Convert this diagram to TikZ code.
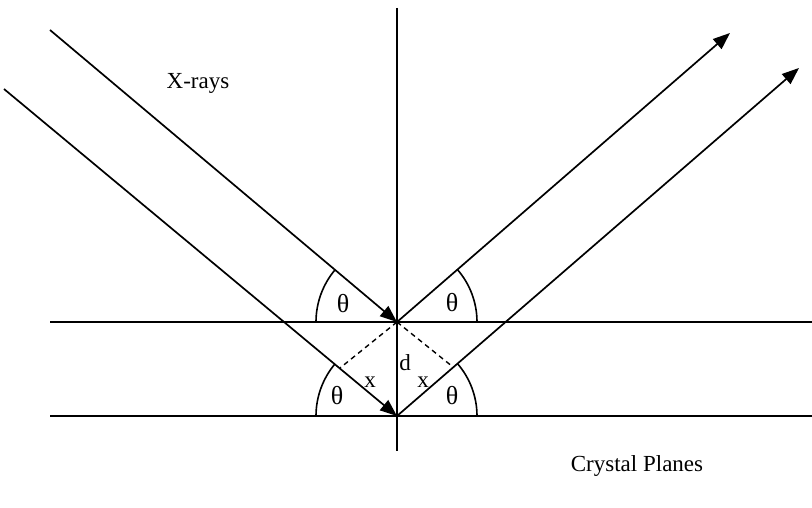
\documentclass[tikz,border=0pt]{standalone}
\usepackage{fontspec}
\setmainfont{Liberation Serif}
\usetikzlibrary{arrows.meta}
\begin{document}
\begin{tikzpicture}[x=1pt,y=-1pt,
  ray/.style={line width=1.7pt},
  rayarrow/.style={line width=1.7pt,-{Triangle[length=17pt,width=13pt]}},
  plane/.style={line width=1.7pt},
  anglearc/.style={line width=1.6pt},
  pathdash/.style={line width=1.4pt,dash pattern=on 5pt off 4pt},
  lbl/.style={font=\fontsize{23}{26}\selectfont,inner sep=0pt},
  thlbl/.style={font=\fontsize{26}{28}\selectfont,inner sep=0pt}]
\useasboundingbox (0,0) rectangle (812,508);
% key points
\coordinate (O1) at (397,322);
\coordinate (O2) at (397,416);
\coordinate (In1) at (50,30);
\coordinate (In2) at (4,89);
\coordinate (Out1) at (730,33);
\coordinate (Out2) at (799,68);
\coordinate (VTop) at (397,8);
\coordinate (VBot) at (397,451);
\coordinate (P1L) at (50,322);
\coordinate (P1R) at (812,322);
\coordinate (P2L) at (50,416);
\coordinate (P2R) at (812,416);
\coordinate (DL) at (340,368);
\coordinate (DR) at (453,367);
% planes and normal
\draw[plane] (P1L) -- (P1R);
\draw[plane] (P2L) -- (P2R);
\draw[plane] (VTop) -- (VBot);
% rays
\draw[rayarrow] (In1) -- (O1);
\draw[rayarrow] (In2) -- (O2);
\draw[rayarrow] (O1) -- (Out1);
\draw[rayarrow] (O2) -- (Out2);
% dashed path difference
\draw[pathdash] (O1) -- (DL);
\draw[pathdash] (O1) -- (DR);
% angle arcs
\draw[anglearc] ([xshift=-81pt]O1) arc[start angle=180,end angle=140,radius=81pt];
\draw[anglearc] ([xshift=80pt]O1) arc[start angle=0,end angle=41,radius=80pt];
\draw[anglearc] ([xshift=-81pt]O2) arc[start angle=180,end angle=140,radius=81pt];
\draw[anglearc] ([xshift=80pt]O2) arc[start angle=0,end angle=41,radius=80pt];
% labels
\node[lbl] (xr) at (198,83) {X-rays};
\node[thlbl] (t1) at (343,304) {θ};
\node[thlbl] (t2) at (452,303) {θ};
\node[thlbl] (t3) at (337,396) {θ};
\node[thlbl] (t4) at (452,396) {θ};
\node[lbl] (x1) at (370,382) {x};
\node[lbl] (x2) at (423,382) {x};
\node[lbl] (dd) at (405,363) {d};
\node[lbl] (cp) at (637,466) {Crystal Planes};
\end{tikzpicture}
\end{document}
